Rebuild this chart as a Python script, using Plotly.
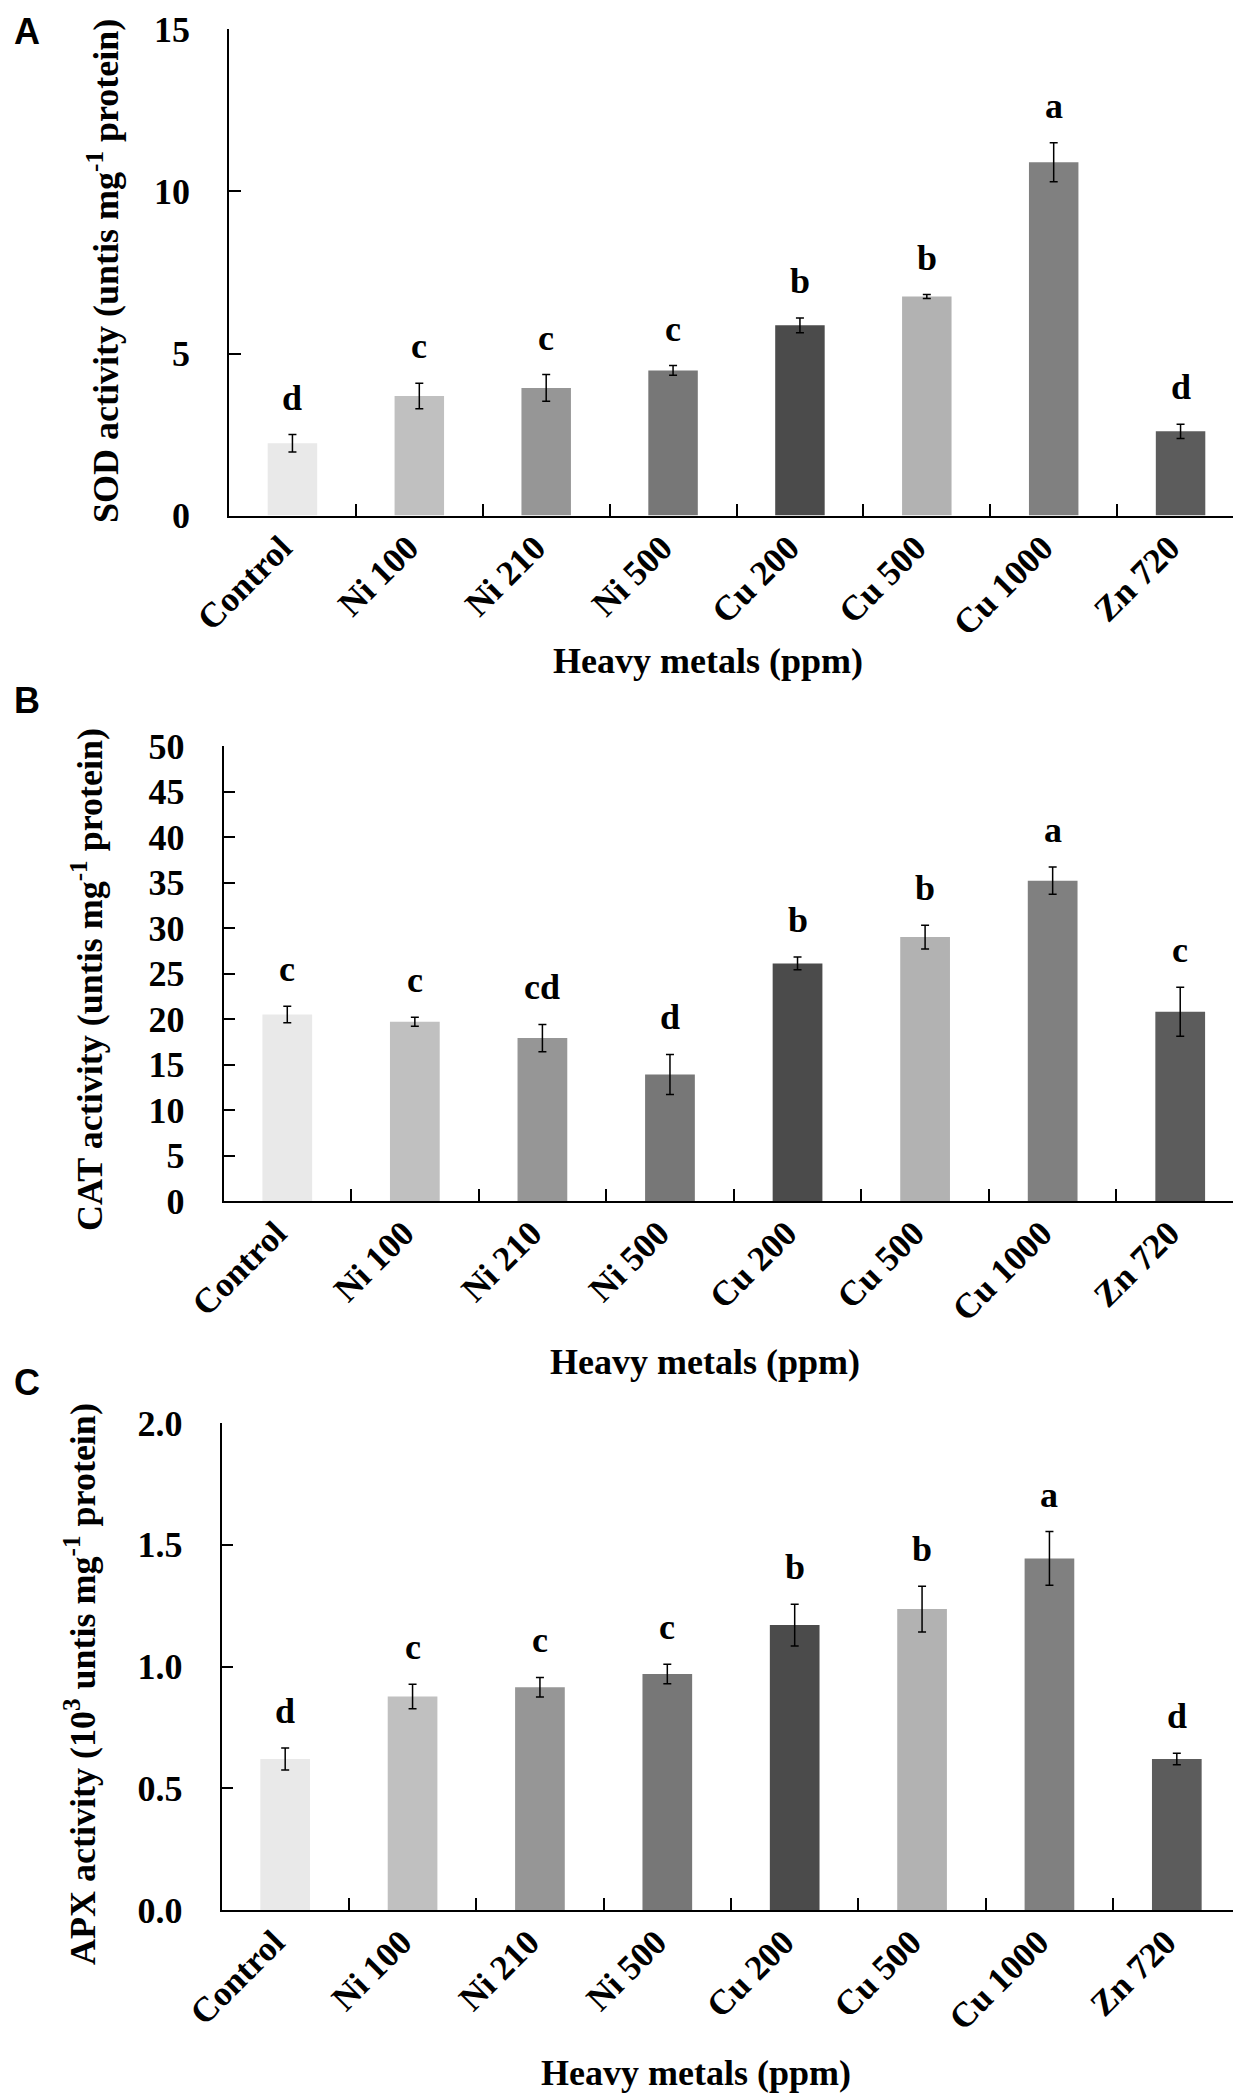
import plotly.graph_objects as go

# treatments on the x axis
metals = ["Control", "Ni 100", "Ni 210", "Ni 500", "Cu 200", "Cu 500", "Cu 1000", "Zn 720"]
bar_colors = ["#e9e9e9", "#c0c0c0", "#969696", "#777777", "#4b4b4b", "#b2b2b2", "#808080", "#5c5c5c"]

# A - SOD activity
sod = [2.23, 3.69, 3.94, 4.48, 5.87, 6.76, 10.9, 2.60]
sod_err = [0.27, 0.39, 0.41, 0.15, 0.23, 0.06, 0.6, 0.22]
sod_letters = ["d", "c", "c", "c", "b", "b", "a", "d"]

# B - CAT activity
cat = [20.5, 19.7, 17.9, 13.9, 26.1, 29.0, 35.2, 20.8]
cat_err = [0.9, 0.5, 1.5, 2.2, 0.7, 1.3, 1.5, 2.7]
cat_letters = ["c", "c", "cd", "d", "b", "b", "a", "c"]

# C - APX activity
apx = [0.62, 0.877, 0.915, 0.969, 1.17, 1.236, 1.444, 0.62]
apx_err = [0.045, 0.05, 0.04, 0.04, 0.086, 0.094, 0.11, 0.024]
apx_letters = ["d", "c", "c", "c", "b", "b", "a", "d"]

W, H = 1241, 2097
SERIF = "Liberation Serif"
SANS = "Liberation Sans"


def px_x(v):
    return v / W


def px_y(v):
    return 1 - v / H


panels = [
    dict(vals=sod, err=sod_err, letters=sod_letters, ymax=15, dtick=5, fmt="d",
         xd=[221, 1236], yd=[507.6, 21.4],
         ytitle="SOD activity (untis mg<sup>-1</sup> protein)", yt=(95, 263),
         xt=(700, 653), tag="A", tagpos=(19, 24)),
    dict(vals=cat, err=cat_err, letters=cat_letters, ymax=50, dtick=5, fmt="d",
         xd=[215.5, 1236], yd=[1193, 738],
         ytitle="CAT activity (untis mg<sup>-1</sup> protein)", yt=(79, 972),
         xt=(697, 1354), tag="B", tagpos=(19, 692)),
    dict(vals=apx, err=apx_err, letters=apx_letters, ymax=2.0, dtick=0.5, fmt=".1f",
         xd=[213.5, 1232.5], yd=[1902, 1415],
         ytitle="APX activity (10<sup>3</sup> untis mg<sup>-1</sup> protein)", yt=(72, 1676),
         xt=(688, 2065), tag="C", tagpos=(19, 1374)),
]

fig = go.Figure()
annotations = []

for i, p in enumerate(panels, start=1):
    sfx = "" if i == 1 else str(i)
    fig.add_trace(go.Bar(
        x=metals, y=p["vals"],
        marker=dict(color=bar_colors, line=dict(width=0)),
        error_y=dict(type="data", array=p["err"], color="black", thickness=1.5, width=4),
        xaxis="x" + sfx, yaxis="y" + sfx,
        showlegend=False,
    ))

    fig.update_layout(**{
        "xaxis" + sfx: dict(
            domain=[px_x(p["xd"][0]), px_x(p["xd"][1])],
            anchor="y" + sfx, automargin=False,
            type="category", categoryorder="array", categoryarray=metals,
            range=[-0.5, 7.5],
            showline=True, linecolor="black", linewidth=1.5,
            ticks="inside", tickson="boundaries", ticklen=12, tickwidth=1.5, tickcolor="black",
            tickangle=-45, ticklabelstandoff=-4, ticklabelshift=-11,
            tickfont=dict(family=SERIF, size=35, color="black", weight="bold"),
            showgrid=False, zeroline=False,
        ),
        "yaxis" + sfx: dict(
            domain=[px_y(p["yd"][0]), px_y(p["yd"][1])],
            anchor="x" + sfx, automargin=False,
            range=[0, p["ymax"]], dtick=p["dtick"], tickformat=p["fmt"],
            showline=True, linecolor="black", linewidth=1.5,
            ticks="inside", ticklen=12, tickwidth=1.5, tickcolor="black",
            ticklabelstandoff=30,
            tickfont=dict(family=SERIF, size=36, color="black", weight="bold"),
            showgrid=False, zeroline=False,
        ),
    })

    # significance letters above the error bars
    for m, v, e, lt in zip(metals, p["vals"], p["err"], p["letters"]):
        annotations.append(dict(
            x=m, y=v + e, xref="x" + sfx, yref="y" + sfx,
            text=lt, showarrow=False, yanchor="bottom", yshift=15,
            font=dict(family=SERIF, size=36, color="black", weight="bold"),
        ))

    # axis titles
    annotations.append(dict(
        x=px_x(p["yt"][0]), y=px_y(p["yt"][1]), xref="paper", yref="paper",
        text=p["ytitle"], textangle=-90, showarrow=False,
        xanchor="center", yanchor="middle",
        font=dict(family=SERIF, size=36, color="black", weight="bold"),
    ))
    annotations.append(dict(
        x=px_x(p["xt"][0]), y=px_y(p["xt"][1]), xref="paper", yref="paper",
        text="Heavy metals (ppm)", showarrow=False,
        xanchor="center", yanchor="middle",
        font=dict(family=SERIF, size=36, color="black", weight="bold"),
    ))
    # panel tag
    annotations.append(dict(
        x=px_x(p["tagpos"][0]), y=px_y(p["tagpos"][1]), xref="paper", yref="paper",
        text=p["tag"], showarrow=False, xanchor="center", yanchor="middle",
        font=dict(family=SANS, size=36, color="black", weight="bold"),
    ))

fig.update_layout(
    template="none",
    width=W, height=H,
    margin=dict(l=0, r=0, t=0, b=0),
    paper_bgcolor="white", plot_bgcolor="white",
    bargap=0.61,
    annotations=annotations,
)

fig.write_html("out.html")
